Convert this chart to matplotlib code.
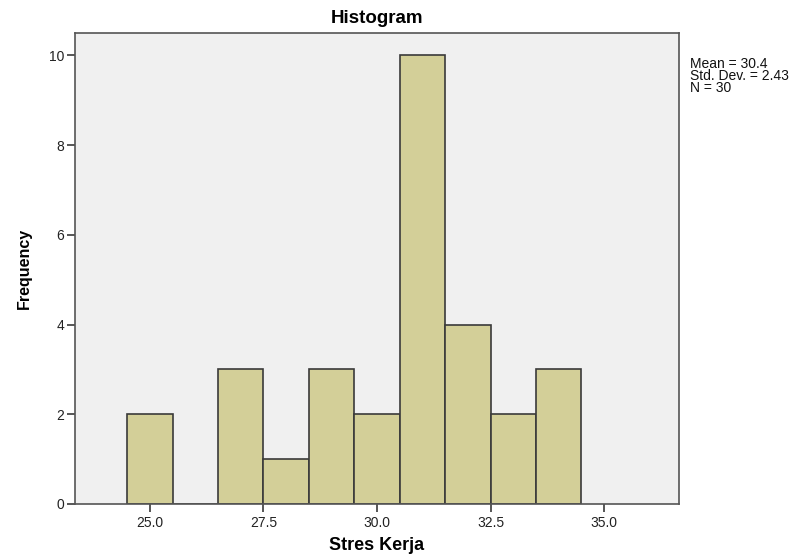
import matplotlib
matplotlib.use("Agg")
import matplotlib.pyplot as plt

# Stres Kerja histogram (SPSS style), bin width 1
bin_centers = [25, 26, 27, 28, 29, 30, 31, 32, 33, 34]
counts = [2, 0, 3, 1, 3, 2, 10, 4, 2, 3]
x_ticks = [25.0, 27.5, 30.0, 32.5, 35.0]
y_ticks = [0, 2, 4, 6, 8, 10]
stats_text = "Mean = 30.4\nStd. Dev. = 2.43\nN = 30"

plt.rcParams["font.family"] = ["Liberation Sans", "DejaVu Sans"]

BAR = "#d3cf98"
BG = "#f0f0f0"
EDGE = "#3a3a3a"

fig = plt.figure(figsize=(8.05, 5.58), dpi=100)
ax = fig.add_axes([0.0932, 0.0968, 0.7503, 0.8441])
ax.set_facecolor(BG)

ax.bar(bin_centers, counts, width=1.0, color=BAR, edgecolor=EDGE, linewidth=1.2)

ax.set_xlim(23.35, 36.65)
ax.set_ylim(0, 10.5)
ax.set_xticks(x_ticks)
ax.set_xticklabels([f"{t:.1f}" for t in x_ticks])
ax.set_yticks(y_ticks)
ax.tick_params(axis="both", direction="out", length=6, width=1.2, color=EDGE,
               labelsize=10, labelcolor="#222222")
ax.tick_params(axis="x", pad=3)
ax.tick_params(axis="y", pad=2)

for s in ax.spines.values():
    s.set_color("#555555")
    s.set_linewidth(1.2)

ax.set_title("Histogram", fontsize=13.5, fontweight="bold", pad=7)
ax.set_xlabel("Stres Kerja", fontsize=13, fontweight="bold", labelpad=5)
ax.set_ylabel("Frequency", fontsize=11.5, fontweight="bold", labelpad=12)

fig.text(690 / 805, 1 - 57 / 558, stats_text, fontsize=10, va="top", ha="left",
         linespacing=0.8, color="#111111")

fig.savefig("out.png", dpi=100, facecolor="white")
